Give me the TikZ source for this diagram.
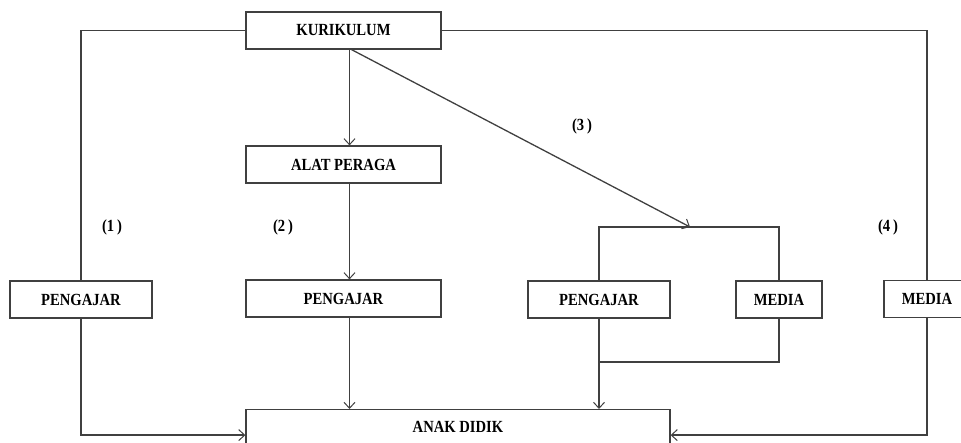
\documentclass[tikz,border=0pt]{standalone}
\usepackage{fontspec}
\setmainfont[FakeStretch=0.86]{Liberation Serif}
\usetikzlibrary{arrows.meta,positioning,calc}

\tikzset{
  box/.style={draw=black!75,line width=1.2pt,fill=white,minimum height=37pt,inner sep=0pt,font=\fontsize{17}{19}\selectfont\bfseries},
  link/.style={draw=black!75,line width=1.3pt},
  arr/.style={link,-{Straight Barb[length=6pt,width=11pt,line width=1pt]}},
  num/.style={font=\fontsize{17}{19}\selectfont\bfseries}
}

\begin{document}
\begin{tikzpicture}[x=1pt,y=-1pt]
\useasboundingbox (0,0) rectangle (961,443);
% boxes
\node[box,minimum width=195pt] (kur) at (343.5,30.5) {KURIKULUM};
\node[box,minimum width=195pt] (alat) at (343.5,164.5) {ALAT PERAGA};
\node[box,minimum width=142pt] (peng1) at (81,299.5) {PENGAJAR};
\node[box,minimum width=195pt] (peng2) at (343.5,298.5) {PENGAJAR};
\node[box,minimum width=142pt] (peng3) at (599,299.5) {PENGAJAR};
\node[box,minimum width=86pt] (med3) at (779,299.5) {MEDIA};
\node[box,minimum width=86pt] (med4) at (927,299) {MEDIA};
\node[box,minimum width=424pt,anchor=north,text height=23pt,text depth=28pt] (anak) at (458,409) {ANAK DIDIK};
% labels
\node[num] (lbl1) at (112,227) {(1\,)};
\node[num] (lbl2) at (283,227) {(2\,)};
\node[num] (lbl3) at (582,126) {(3\,)};
\node[num] (lbl4) at (888,227) {(4\,)};
% helper points
\coordinate (top3) at (690,227);
\coordinate (join3) at (599,362);
% connectors
\draw[link] (kur.west) -| (peng1.north);
\draw[link] (kur.east) -| (med4.north);
\draw[arr] ([xshift=6pt]kur.south) -- ([xshift=6pt]alat.north);
\draw[arr] ([xshift=6pt]alat.south) -- ([xshift=6pt]peng2.north);
\draw[arr] ([xshift=8pt]kur.south) -- (top3);
\draw[link] (peng3.north) |- (top3) -| (med3.north);
\draw[link] (med3.south) |- (join3);
\draw[arr] (peng3.south) -- (peng3.south |- anak.north);
\draw[arr] ([xshift=6pt]peng2.south) -- ([xshift=6pt]peng2.south |- anak.north);
\draw[arr] (peng1.south) |- (anak.west);
\draw[arr] (med4.south) |- (anak.east);
\end{tikzpicture}
\end{document}
